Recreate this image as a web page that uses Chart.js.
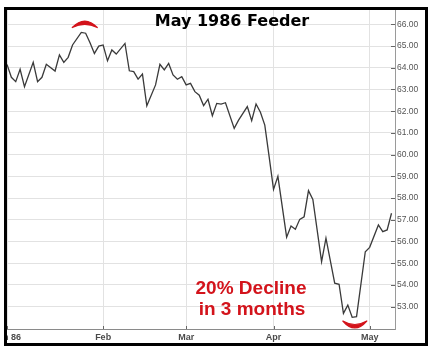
<!DOCTYPE html>
<html>
<head>
<meta charset="utf-8">
<script src="https://cdn.jsdelivr.net/npm/chart.js@4.4.1/dist/chart.umd.min.js"></script>
<style>
  html, body { margin: 0; padding: 0; background: #ffffff; }
  body { width: 429px; height: 352px; position: relative; overflow: hidden; }
  #frame {
    position: absolute; left: 4px; top: 7px;
    width: 418px; height: 333px;
    border: 3px solid #000;
    overflow: hidden; background: #fff;
  }
  #frame canvas { display: block; }
</style>
</head>
<body>
<div id="frame"><canvas id="c" width="418" height="333"></canvas></div>
<script>
// Trading-day index (0 = Jan 2, 1986) and settlement prices
const days = [0,1,2,3,4,6,7,8,9,11,12,13,14,15,17,18,19,20,21,22,23,24,25,27,28,29,30,31,32,34,35,36,37,38,39,40,41,42,43,44,45,46,47,48,49,50,52,53,55,56,57,58,59,60,61,62,64,65,66,67,68,69,70,72,73,75,76,77,78,79,80,82,83,85,86,87,88];
const prices = [64.15,63.56,63.36,63.93,63.13,64.25,63.36,63.56,64.16,63.85,64.59,64.25,64.48,65.05,65.63,65.59,65.15,64.66,65.00,65.05,64.32,64.82,64.63,65.12,63.86,63.82,63.48,63.71,62.25,63.21,64.16,63.90,64.20,63.67,63.47,63.59,63.21,63.28,62.90,62.74,62.26,62.55,61.79,62.36,62.33,62.39,61.21,61.59,62.21,61.56,62.33,61.95,61.36,59.90,58.40,59.00,56.20,56.71,56.56,57.02,57.14,58.34,57.94,55.07,56.15,54.08,54.03,52.69,53.07,52.51,52.54,55.53,55.73,56.76,56.45,56.53,57.30];

// Month tick positions (trading-day index) and labels
const monthTicks = [0, 22, 41, 61, 83];
const monthLabels = ['Jan 86', 'Feb', 'Mar', 'Apr', 'May'];

// Price ticks
const priceTicks = [53,54,55,56,57,58,59,60,61,62,63,64,65,66];

// Annotations
const titleText = 'May 1986 Feeder';
const noteLines = ['20% Decline', 'in 3 months'];
const peakMark = { x: 17.8, y: 66.0 };
const troughMark = { x: 79.6, y: 52.2 };

const points = days.map((d, i) => ({ x: d, y: prices[i] }));

const overlay = {
  id: 'overlay',
  afterDraw(chart) {
    const ctx = chart.ctx;
    const xs = chart.scales.x, ys = chart.scales.y;
    const area = chart.chartArea;
    ctx.save();
    ctx.strokeStyle = '#666';
    ctx.lineWidth = 1;
    priceTicks.forEach(v => {
      const py = Math.round(ys.getPixelForValue(v)) + 0.5;
      ctx.beginPath();
      ctx.moveTo(area.right - 4, py);
      ctx.lineTo(area.right, py);
      ctx.stroke();
    });
    monthTicks.forEach(v => {
      const px = Math.round(xs.getPixelForValue(v)) + 0.5;
      ctx.beginPath();
      ctx.moveTo(px, area.bottom - 3);
      ctx.lineTo(px, area.bottom);
      ctx.stroke();
    });

    ctx.fillStyle = '#000';
    ctx.font = 'bold 16px "DejaVu Sans"';
    ctx.textAlign = 'center';
    ctx.textBaseline = 'alphabetic';
    ctx.fillText(titleText, 225, 15.5);

    ctx.fillStyle = '#d3131b';
    ctx.font = 'bold 19px "Liberation Sans", Arial, sans-serif';
    ctx.fillText(noteLines[0], 244, 283.5);
    ctx.fillText(noteLines[1], 245, 304.5);

    const drawArc = (cx, y0, hw, yEnd, cOut, cIn) => {
      ctx.beginPath();
      ctx.moveTo(cx - hw, yEnd);
      ctx.quadraticCurveTo(cx, cOut, cx + hw, yEnd);
      ctx.quadraticCurveTo(cx, cIn, cx - hw, yEnd);
      ctx.closePath();
      ctx.fillStyle = '#d3131b';
      ctx.strokeStyle = '#d3131b';
      ctx.lineWidth = 1.2;
      ctx.lineJoin = 'round';
      ctx.fill();
      ctx.stroke();
    };
    let cx = xs.getPixelForValue(peakMark.x), y0 = ys.getPixelForValue(peakMark.y);
    drawArc(cx, y0, 12.5, y0 + 3.2, y0 - 9.8, y0 - 3.0);
    cx = xs.getPixelForValue(troughMark.x); y0 = ys.getPixelForValue(troughMark.y);
    drawArc(cx, y0, 12, y0 - 3, y0 + 11, y0 + 4);
    ctx.restore();
  }
};

new Chart(document.getElementById('c'), {
  type: 'line',
  data: {
    datasets: [{
      data: points,
      borderColor: '#3a3a3a',
      borderWidth: 1.3,
      pointRadius: 0,
      tension: 0,
      fill: false
    }]
  },
  options: {
    responsive: false,
    animation: false,
    devicePixelRatio: 1,
    layout: { padding: 0, autoPadding: false },
    plugins: { legend: { display: false }, tooltip: { enabled: false }, title: { display: false } },
    scales: {
      x: {
        type: 'linear',
        min: 0,
        max: 88.8,
        afterBuildTicks(scale) { scale.ticks = monthTicks.map(v => ({ value: v })); },
        afterFit(scale) { scale.height = 14; scale.paddingLeft = 0; scale.paddingRight = 0; scale.paddingTop = 0; scale.paddingBottom = 0; },
        grid: { color: '#e2e2e2', lineWidth: 1, tickLength: 0, drawTicks: false },
        border: { display: true, color: '#8a8a8a', width: 1 },
        ticks: {
          autoSkip: false,
          maxRotation: 0,
          padding: 3,
          color: '#4a4a4a',
          font: { family: '"Liberation Sans", Arial, sans-serif', size: 9, weight: 'bold' },
          callback(v) { const i = monthTicks.indexOf(v); return i >= 0 ? monthLabels[i] : ''; }
        }
      },
      y: {
        position: 'right',
        min: 51.97,
        max: 66.66,
        afterBuildTicks(scale) { scale.ticks = priceTicks.map(v => ({ value: v })); },
        afterFit(scale) { scale.width = 30; scale.paddingLeft = 0; scale.paddingRight = 0; scale.paddingTop = 0; scale.paddingBottom = 0; },
        grid: { color: '#e2e2e2', lineWidth: 1, tickLength: 0, drawTicks: false },
        border: { display: true, color: '#9a9a9a', width: 1 },
        ticks: {
          padding: 2,
          color: '#555',
          font: { family: '"Liberation Sans", Arial, sans-serif', size: 8.5 },
          callback(v) { return Number(v).toFixed(2); }
        }
      }
    }
  },
  plugins: [overlay]
});
</script>
</body>
</html>
